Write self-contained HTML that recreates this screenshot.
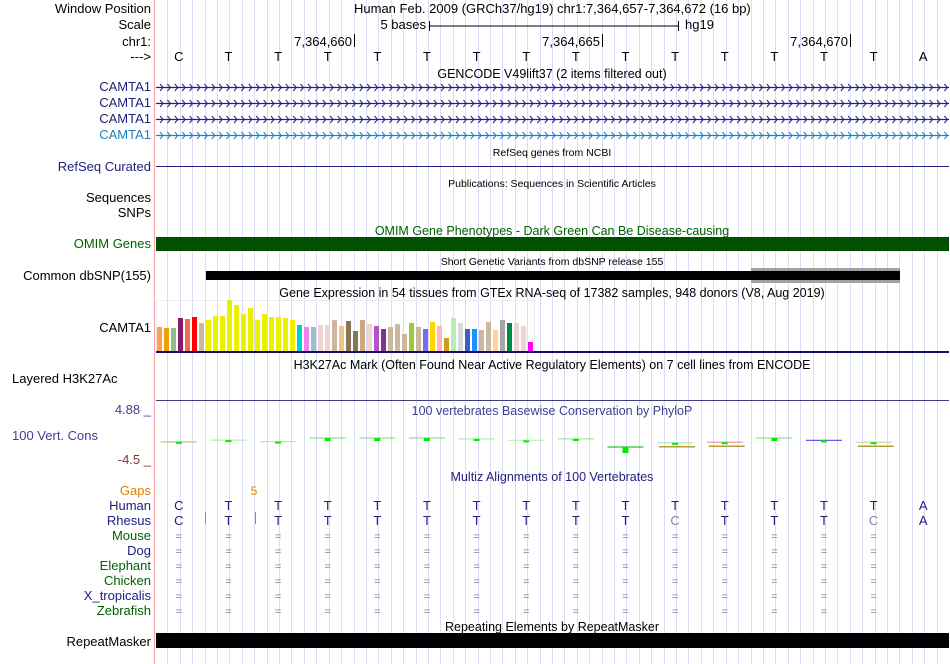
<!DOCTYPE html>
<html><head><meta charset="utf-8"><style>
html,body{margin:0;padding:0;background:#fff;}
svg{display:block;font-family:"Liberation Sans",sans-serif;}
</style></head><body>
<svg id="c" width="950" height="664" viewBox="0 0 950 664">
<g id="grid"></g>
<line x1="154.5" y1="0" x2="154.5" y2="664" stroke="#f4a0a0"/>
<g font-size="13" text-anchor="end">
<text x="151" y="13" fill="#000">Window Position</text>
<text x="151" y="29" fill="#000">Scale</text>
<text x="151" y="46" fill="#000">chr1:</text>
<text x="151" y="61" fill="#000">---&gt;</text>
<text x="151" y="91" fill="#202080">CAMTA1</text>
<text x="151" y="107" fill="#202080">CAMTA1</text>
<text x="151" y="123" fill="#202080">CAMTA1</text>
<text x="151" y="139" fill="#2080c0">CAMTA1</text>
<text x="151" y="171" fill="#202080">RefSeq Curated</text>
<text x="151" y="202" fill="#000">Sequences</text>
<text x="151" y="217" fill="#000">SNPs</text>
<text x="151" y="248" fill="#006000">OMIM Genes</text>
<text x="151" y="280" fill="#000">Common dbSNP(155)</text>
<text x="151" y="332" fill="#000">CAMTA1</text>
<text x="151" y="414" fill="#404090">4.88 _</text>
<text x="151" y="464" fill="#883030">-4.5 _</text>
<text x="151" y="495" fill="#e08000">Gaps</text>
<text x="151" y="510" fill="#202080">Human</text>
<text x="151" y="525" fill="#202080">Rhesus</text>
<text x="151" y="540" fill="#006000">Mouse</text>
<text x="151" y="555" fill="#202080">Dog</text>
<text x="151" y="570" fill="#006000">Elephant</text>
<text x="151" y="585" fill="#006000">Chicken</text>
<text x="151" y="600" fill="#202080">X_tropicalis</text>
<text x="151" y="615" fill="#006000">Zebrafish</text>
<text x="151" y="646" fill="#000">RepeatMasker</text>
</g>
<text x="12" y="383" font-size="13" fill="#000">Layered H3K27Ac</text>
<text x="12" y="440" font-size="13" fill="#404090">100 Vert. Cons</text>
<text x="354" y="13" font-size="13">Human Feb. 2009 (GRCh37/hg19)   chr1:7,364,657-7,364,672 (16 bp)</text>
<text x="426" y="29" font-size="13" text-anchor="end">5 bases</text>
<g stroke="#000"><line x1="429.5" y1="21" x2="429.5" y2="31"/><line x1="678.5" y1="21" x2="678.5" y2="31"/><line x1="429" y1="26" x2="678" y2="26"/></g>
<text x="685" y="29" font-size="13">hg19</text>
<g font-size="13" text-anchor="end">
<text x="352" y="46">7,364,660</text><line x1="354.5" y1="34" x2="354.5" y2="47" stroke="#000"/>
<text x="600" y="46">7,364,665</text><line x1="602.5" y1="34" x2="602.5" y2="47" stroke="#000"/>
<text x="848" y="46">7,364,670</text><line x1="850.5" y1="34" x2="850.5" y2="47" stroke="#000"/>
</g>
<g id="bases" font-size="13" text-anchor="middle"></g>
<g font-size="12.5" text-anchor="middle">
<text x="552" y="78">GENCODE V49lift37 (2 items filtered out)</text>
<text x="552" y="156" font-size="10.5">RefSeq genes from NCBI</text>
<text x="552" y="187" font-size="10.5">Publications: Sequences in Scientific Articles</text>
<text x="552" y="235" fill="#006000">OMIM Gene Phenotypes - Dark Green Can Be Disease-causing</text>
<text x="552" y="265" font-size="10.5">Short Genetic Variants from dbSNP release 155</text>
<text x="552" y="297">Gene Expression in 54 tissues from GTEx RNA-seq of 17382 samples, 948 donors (V8, Aug 2019)</text>
<text x="552" y="369">H3K27Ac Mark (Often Found Near Active Regulatory Elements) on 7 cell lines from ENCODE</text>
<text x="552" y="415" fill="#404090">100 vertebrates Basewise Conservation by PhyloP</text>
<text x="552" y="481" fill="#202080">Multiz Alignments of 100 Vertebrates</text>
<text x="552" y="631">Repeating Elements by RepeatMasker</text>
</g>
<g id="genes"></g>
<line x1="156" y1="166.5" x2="949" y2="166.5" stroke="#202080"/>
<rect x="156" y="237" width="793" height="14" fill="#005000"/>
<rect x="751" y="268" width="149" height="15" fill="#a0a0a0"/>
<rect x="206" y="271" width="694" height="9" fill="#000"/>
<rect x="156.5" y="300.5" width="378" height="52" fill="none" stroke="#ececf4"/>
<g id="gtex"></g>
<rect x="156" y="351" width="793" height="2" fill="#101070"/>
<line x1="156" y1="400.5" x2="949" y2="400.5" stroke="#404080"/>
<g id="cons"></g>
<text x="254" y="495" font-size="12" fill="#e08000" text-anchor="middle">5</text>
<g stroke="#e08000"><line x1="205.5" y1="512" x2="205.5" y2="524"/><line x1="255.5" y1="512" x2="255.5" y2="524"/></g>
<g id="multiz" font-size="13" text-anchor="middle"></g>
<rect x="156" y="633" width="793" height="15" fill="#000"/>
</svg>
<script>
const NS='http://www.w3.org/2000/svg';
const humanBases=['C','T','T','T','T','T','T','T','T','T','T','T','T','T','T','A'];
const rhesusBases=['C','T','T','T','T','T','T','T','T','T','C','T','T','T','C','A'];
const consValues=[-0.3,0.3,-0.2,1.0,1.0,1.0,0.7,0.2,0.7,-2.0,-0.6,-0.4,1.0,0.2,-0.4];
const consLineColors=['#c8c080','#b0f0b0','#b0f0b0','#90e090','#90e090','#90e090','#b0f0b0','#c0f0c0','#a0e8a0','#30c030','#b0e0b0','#f09090','#90e090','#6060f0','#d0d0a0'];
const gtexValues=[24,23,23,33,32,34,28,31,35,35,51,46,37,43,31,37,34,34,33,31,26,24,24,26,26,31,25,30,20,31,27,25,22,24,27,17,28,24,22,29,25,13,33,28,22,22,21,29,21,31,28,28,25,9];
const gtexColors=['#ffa050','#f0a000','#8fbc8f','#8b1c62','#ee6a50','#ff0000','#cdb79e','#eeee00','#eeee00','#eeee00','#eeee00','#eeee00','#eeee00','#eeee00','#eeee00','#eeee00','#eeee00','#eeee00','#eeee00','#eeee00','#00cdcd','#ee82ee','#9ac0cd','#eed5d2','#eed5d2','#cdb79e','#eec591','#8b7355','#8b7355','#cdaa7d','#eed5d2','#b452cd','#7a378b','#cdb79e','#cdb79e','#cdb79e','#9acd32','#cdb79e','#7b68ee','#ffd700','#ffb6c1','#cd9b1d','#b4eeb4','#d9d9d9','#3a5fcd','#1e90ff','#cdb79e','#cdb79e','#ffd39b','#a6a6a6','#008b45','#eed5d2','#eed5d2','#ff00ff'];
const X0=154, BW=794/16;
const bx=i=>X0+BW*(i+0.5);
function el(t,a,p){const e=document.createElementNS(NS,t);for(const k in a)e.setAttribute(k,a[k]);p.appendChild(e);return e;}
const grid=document.getElementById('grid');
for(let k=1;k<64;k++){const x=Math.round(155+k*BW/4)+0.5;
const l=el('line',{x1:x,y1:0,x2:x,y2:664,stroke:'#dcdcf4'},grid);

}
const bases=document.getElementById('bases');
humanBases.forEach((b,i)=>{const t=el('text',{x:bx(i),y:61},bases);t.textContent=b;

});
const genes=document.getElementById('genes');
[[87,'#202080'],[103,'#202080'],[119,'#202080'],[135,'#2080c0']].forEach(([y,c])=>{
const g=el('g',{stroke:c,fill:'none'},genes);


el('line',{x1:156,y1:y+0.5,x2:949,y2:y+0.5,'stroke-width':1.3},g);
let d='';for(let x=160;x<948;x+=7.4){d+=`M${x.toFixed(1)} ${y-3} l3 3.5 l-3 3.5 `;}
el('path',{d:d},g);});
const gtex=document.getElementById('gtex');
const base=351;
gtexValues.forEach((v,i)=>{const r=el('rect',{x:157+i*7,y:base-v,width:5,height:v,fill:gtexColors[i]},gtex);

});
const cons=document.getElementById('cons');
const zero=441, sc=3;
consValues.forEach((v,i)=>{const cx=bx(i);const ly=zero-v*sc;
const g=el('g',{},cons);


el('line',{x1:cx-18,y1:ly,x2:cx+18,y2:ly,stroke:consLineColors[i],'stroke-width':1.2},g);
const h=Math.max(2,Math.abs(v)*3);
el('rect',{x:cx-3,y:ly,width:6,height:h,fill:'#00ee00'},g);
if(v<-0.3&&i!==9)el('line',{x1:cx-16,y1:ly+4,x2:cx+20,y2:ly+4,stroke:'#b0a030','stroke-width':1.5},g);});
const mz=document.getElementById('multiz');
humanBases.forEach((b,i)=>{const t=el('text',{x:bx(i),y:510,fill:'#202080'},mz);t.textContent=b;

});
rhesusBases.forEach((b,i)=>{const t=el('text',{x:bx(i),y:525,fill:(b!==humanBases[i])?'#8080b0':'#202080'},mz);t.textContent=b;

});
for(let r=0;r<6;r++){for(let i=0;i<15;i++){const t=el('text',{x:bx(i),y:540+15*r,fill:'#8080b0','font-size':11},mz);t.textContent='=';

}}
</script>
</body></html>
